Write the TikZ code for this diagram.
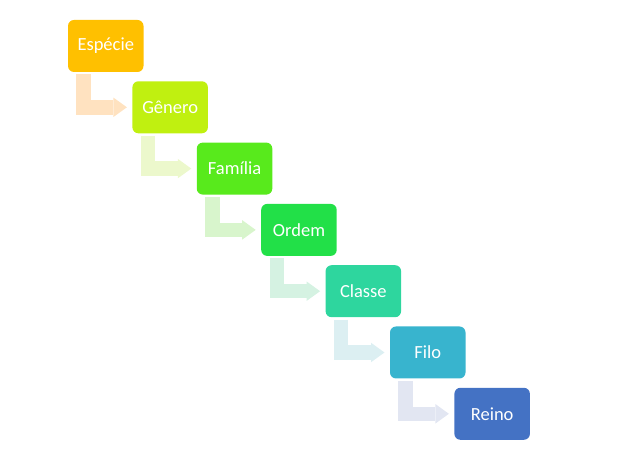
\documentclass[tikz,border=0pt]{standalone}
\usepackage{fontspec}
\setmainfont{Carlito}
\usepackage{xcolor}
\usetikzlibrary{arrows.meta,positioning}
\definecolor{cespecie}{RGB}{255,192,0}
\definecolor{cgenero}{RGB}{192,240,16}
\definecolor{cfamilia}{RGB}{88,234,28}
\definecolor{cordem}{RGB}{34,224,72}
\definecolor{cclasse}{RGB}{46,214,158}
\definecolor{cfilo}{RGB}{56,180,206}
\definecolor{creino}{RGB}{68,114,196}
\definecolor{aespecie}{RGB}{255,226,192}
\definecolor{agenero}{RGB}{236,248,204}
\definecolor{afamilia}{RGB}{216,245,204}
\definecolor{aordem}{RGB}{213,242,226}
\definecolor{aclasse}{RGB}{220,239,242}
\definecolor{afilo}{RGB}{226,230,242}

\begin{document}
\begin{tikzpicture}[
  x=1pt,y=1pt,
  node distance=8.9pt and -11.5pt,
  box/.style={rounded corners=6pt,align=center,minimum width=75.5pt,minimum height=52pt,
    inner sep=0pt,text=white,font=\fontsize{18.5pt}{20pt}\selectfont},
  arrow/.style={line width=14.5pt,-{Triangle[length=13.5pt,width=19.5pt,line width=0pt]}}
]
\useasboundingbox (0,0) rectangle (641,449);
\node[box,fill=cespecie] (especie) at (105.75,403) {Espécie};
\node[box,fill=cgenero,below right=of especie] (genero) {Gênero};
\node[box,fill=cfamilia,below right=of genero] (familia) {Família};
\node[box,fill=cordem,below right=of familia] (ordem) {Ordem};
\node[box,fill=cclasse,below right=of ordem] (classe) {Classe};
\node[box,fill=cfilo,below right=of classe] (filo) {Filo};
\node[box,fill=creino,below right=of filo] (reino) {Reino};
\draw[arrow,aespecie] ([xshift=15.8pt,yshift=-2.3pt]especie.south west) |- ([xshift=-5.3pt]genero.west);
\draw[arrow,agenero] ([xshift=15.8pt,yshift=-2.3pt]genero.south west) |- ([xshift=-5.3pt]familia.west);
\draw[arrow,afamilia] ([xshift=15.8pt,yshift=-2.3pt]familia.south west) |- ([xshift=-5.3pt]ordem.west);
\draw[arrow,aordem] ([xshift=15.8pt,yshift=-2.3pt]ordem.south west) |- ([xshift=-5.3pt]classe.west);
\draw[arrow,aclasse] ([xshift=15.8pt,yshift=-2.3pt]classe.south west) |- ([xshift=-5.3pt]filo.west);
\draw[arrow,afilo] ([xshift=15.8pt,yshift=-2.3pt]filo.south west) |- ([xshift=-5.3pt]reino.west);
\end{tikzpicture}
\end{document}
